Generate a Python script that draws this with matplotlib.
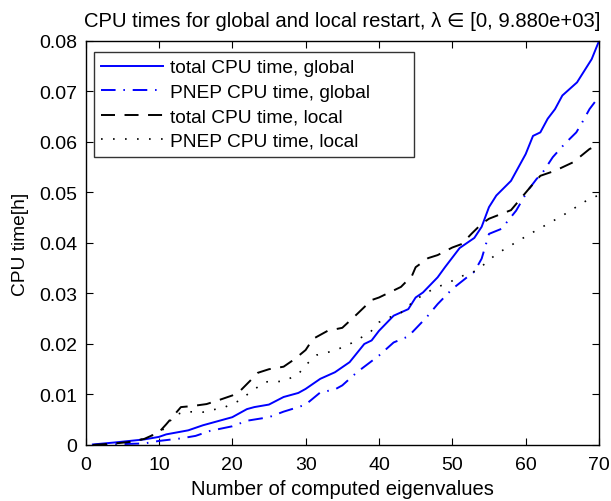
import matplotlib
matplotlib.use('Agg')
import matplotlib.pyplot as plt

plt.rcParams['font.family'] = ['Liberation Sans', 'DejaVu Sans']

# total CPU time, global restart
x_tot_glob = [1, 4, 6, 8, 10, 11, 14, 16, 18, 20, 22, 23, 25, 27, 29, 30, 32, 34, 36, 38, 39, 40,
              42, 44, 45, 46, 48, 49, 51, 53, 54, 55, 56, 58, 60, 61, 62, 63, 64, 65, 67, 68, 69, 70]
y_tot_glob = [0.0001, 0.0005, 0.0008, 0.0011, 0.0016, 0.0021, 0.0029, 0.0039, 0.0047, 0.0055, 0.0071,
              0.0075, 0.0080, 0.0095, 0.0103, 0.0111, 0.0131, 0.0144, 0.0164, 0.0200, 0.0207, 0.0226,
              0.0256, 0.0269, 0.0292, 0.0302, 0.0332, 0.0352, 0.0390, 0.0410, 0.0432, 0.0471, 0.0494,
              0.0523, 0.0576, 0.0612, 0.0619, 0.0646, 0.0665, 0.0692, 0.0718, 0.0741, 0.0764, 0.0800]

# PNEP CPU time, global restart
x_pnep_glob = [1, 3, 8, 10, 13, 15, 17, 20, 22, 25, 27, 29, 30, 32, 34, 35, 37, 40, 42, 44, 46.5, 48,
               50, 52, 53, 54, 55, 56.7, 58.7, 60.3, 61.5, 62.2, 63.7, 65.3, 66.9, 67.6, 68.7, 70]
y_pnep_glob = [0.0000, 0.0001, 0.0003, 0.0008, 0.0013, 0.0018, 0.0028, 0.0037, 0.0048, 0.0055, 0.0066,
               0.0075, 0.0080, 0.0104, 0.0110, 0.0118, 0.0144, 0.0177, 0.0203, 0.0215, 0.0253, 0.0279,
               0.0309, 0.0332, 0.0343, 0.0369, 0.0418, 0.0428, 0.0464, 0.0504, 0.0527, 0.0537, 0.0570,
               0.0596, 0.0619, 0.0636, 0.0665, 0.0690]

# total CPU time, local restart
x_tot_loc = [1, 4, 6, 8, 10, 11, 13, 14.5, 16.5, 18, 20, 21, 22.5, 23.5, 25, 27, 28.5, 30, 31, 33, 35,
             37, 39, 40, 42, 43, 44.5, 45, 46.7, 48, 50, 51.3, 52.6, 54, 55, 58, 60.6, 62, 64, 66.5,
             68.7, 70]
y_tot_loc = [0.0000, 0.0003, 0.0006, 0.0012, 0.0025, 0.0041, 0.0075, 0.0077, 0.0081, 0.0088, 0.0098,
             0.0106, 0.0128, 0.0143, 0.0150, 0.0155, 0.0170, 0.0188, 0.0210, 0.0226, 0.0232, 0.0259,
             0.0287, 0.0292, 0.0306, 0.0313, 0.0335, 0.0352, 0.0370, 0.0376, 0.0391, 0.0398, 0.0418,
             0.0438, 0.0448, 0.0465, 0.0510, 0.0533, 0.0543, 0.0560, 0.0586, 0.0595]

# PNEP CPU time, local restart
x_pnep_loc = [1, 4, 6, 8, 10, 11, 12, 13.5, 16, 19, 21, 22.5, 24.5, 27, 29, 30, 31.5, 34, 36.3, 38.8,
              40, 41, 43, 45, 47.4, 50, 52, 53.3, 56, 60.6, 65, 68.3, 70]
y_pnep_loc = [0.0000, 0.0003, 0.0006, 0.0012, 0.0025, 0.0035, 0.0058, 0.0066, 0.0065, 0.0075, 0.0088,
              0.0105, 0.0125, 0.0126, 0.0140, 0.0158, 0.0178, 0.0187, 0.0202, 0.0223, 0.0243, 0.0250,
              0.0262, 0.0288, 0.0309, 0.0325, 0.0339, 0.0345, 0.0378, 0.0418, 0.0454, 0.0484, 0.0495]

fig = plt.figure(figsize=(6.11, 5.02), dpi=100)
ax = fig.add_axes([0.140, 0.1116, 0.8404, 0.8048])

ax.plot(x_tot_glob, y_tot_glob, '-', color='#0000ff', lw=1.4, label='total CPU time, global')
ax.plot(x_pnep_glob, y_pnep_glob, '-.', color='#0000ff', lw=1.4, dashes=(7.5, 4, 0.8, 4),
        label='PNEP CPU time, global')
ax.plot(x_tot_loc, y_tot_loc, '--', color='black', lw=1.4, dashes=(7.2, 4.9), label='total CPU time, local')
ax.plot(x_pnep_loc, y_pnep_loc, ':', color='black', lw=1.2, dashes=(1, 6.2), label='PNEP CPU time, local')

ax.set_xlim(0, 70)
ax.set_ylim(0, 0.08)
ax.set_xticks(range(0, 71, 10))
ax.set_yticks([0, 0.01, 0.02, 0.03, 0.04, 0.05, 0.06, 0.07, 0.08])
ax.set_yticklabels(['0', '0.01', '0.02', '0.03', '0.04', '0.05', '0.06', '0.07', '0.08'])
ax.tick_params(direction='in', top=True, right=True, length=5, width=0.8, labelsize=14)
ax.tick_params(axis='x', pad=8)
ax.tick_params(axis='y', pad=6)
for s in ax.spines.values():
    s.set_linewidth(1.0)

ax.set_xlabel('Number of computed eigenvalues', fontsize=14.6, labelpad=4)
ax.set_ylabel('CPU time[h]', fontsize=13.8, labelpad=7)
ax.set_title('CPU times for global and local restart, λ ∈ [0, 9.880e+03]', fontsize=14.6, pad=11)

leg = ax.legend(loc='upper left', bbox_to_anchor=(0.0166, 0.40, 0.623, 0.5735), mode='expand',
                fontsize=13.8, frameon=True, fancybox=False, edgecolor='black',
                handlelength=3.2, borderaxespad=0, labelspacing=0.37, borderpad=0.38, handletextpad=0.4)
leg.get_frame().set_linewidth(1.0)

plt.savefig('out.png', dpi=100)
